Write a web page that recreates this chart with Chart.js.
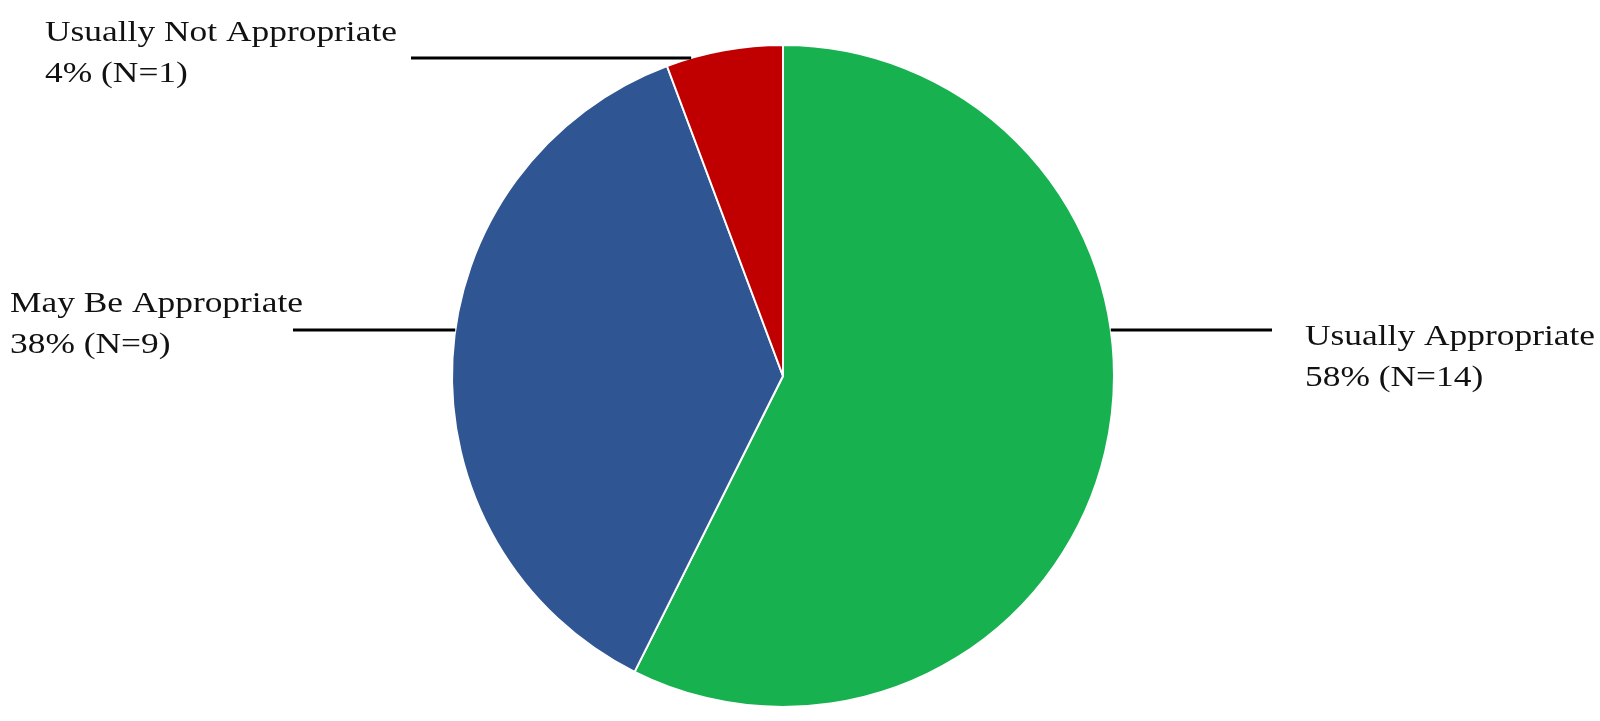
<!DOCTYPE html>
<html>
<head>
<meta charset="utf-8">
<title>Appropriateness ratings</title>
<script src="https://cdn.jsdelivr.net/npm/chart.js@4.4.1/dist/chart.umd.min.js"></script>
<style>
    html, body { margin: 0; padding: 0; background: #fff; }
    #wrap { width: 1600px; height: 721px; position: relative; }
</style>
</head>
<body>
<div id="wrap"><canvas id="pieChart"></canvas></div>
<script>
const categories = ['Usually Appropriate', 'May Be Appropriate', 'Usually Not Appropriate'];
const shares = [57.4, 36.9, 5.7];
const valueLabels = ['58% (N=14)', '38% (N=9)', '4% (N=1)'];
const sliceColors = ['#18b14f', '#2f5593', '#c00000'];

// where each label and its leader line sit (per slice)
const labelLayout = [
    { side: 'right', lineY: 330, lineEnd: 1272, textX: 1305, baseY: 345 },
    { side: 'left',  lineY: 330, lineEnd: 293,  textX: 10,   baseY: 312 },
    { side: 'left',  lineY: 58,  lineEnd: 411,  textX: 45,   baseY: 41 }
];

const leaderLabels = {
    id: 'leaderLabels',
    afterDatasetsDraw(chart) {
        const ctx = chart.ctx;
        const arcs = chart.getDatasetMeta(0).data;
        ctx.save();
        arcs.forEach(function(arc, i) {
            const lay = labelLayout[i];
            const r = arc.outerRadius;
            const dy = lay.lineY - arc.y;
            const dx = Math.sqrt(Math.max(r * r - dy * dy, 0));
            const edgeX = lay.side === 'right' ? arc.x + dx : arc.x - dx;

            ctx.strokeStyle = '#000';
            ctx.lineWidth = 3;
            ctx.beginPath();
            ctx.moveTo(edgeX, lay.lineY);
            ctx.lineTo(lay.lineEnd, lay.lineY);
            ctx.stroke();

            // serif text, slightly stretched like the original
            ctx.fillStyle = '#111';
            ctx.font = '30px "Liberation Serif", "Times New Roman", serif';
            ctx.textBaseline = 'alphabetic';
            ctx.textAlign = 'left';
            ctx.save();
            ctx.translate(lay.textX, 0);
            ctx.scale(1.18, 1);
            ctx.fillText(categories[i], 0, lay.baseY);
            ctx.fillText(valueLabels[i], 0, lay.baseY + 41);
            ctx.restore();
        });
        ctx.restore();
    }
};

document.addEventListener('DOMContentLoaded', function() {
    const ctx = document.getElementById('pieChart').getContext('2d');
    new Chart(ctx, {
        type: 'pie',
        data: {
            labels: categories,
            datasets: [{
                data: shares,
                backgroundColor: sliceColors,
                borderColor: '#ffffff',
                borderWidth: 2
            }]
        },
        options: {
            responsive: true,
            maintainAspectRatio: false,
            animation: false,
            layout: {
                padding: { top: 44, bottom: 13, left: 0, right: 34 }
            },
            plugins: {
                legend: { display: false },
                tooltip: { enabled: false }
            }
        },
        plugins: [leaderLabels]
    });
});
</script>
</body>
</html>
